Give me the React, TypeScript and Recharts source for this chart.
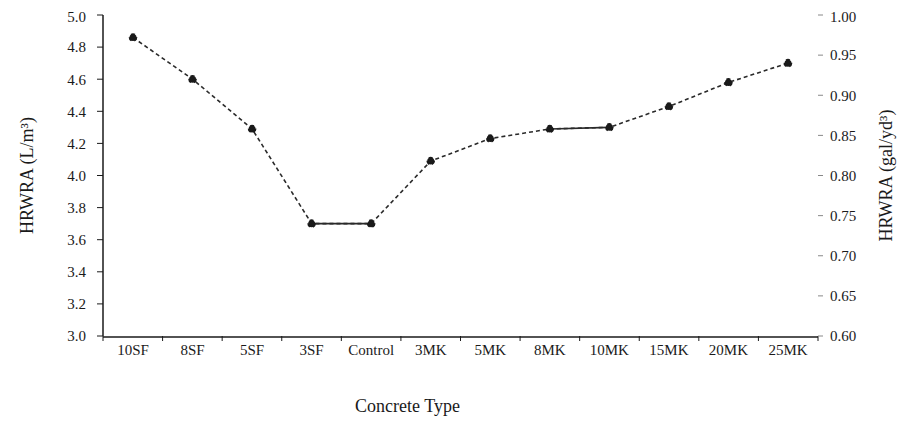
import { LineChart, Line, XAxis, YAxis, Label } from "recharts";

// Concrete mixes along the x axis
const MIXES = ["10SF", "8SF", "5SF", "3SF", "Control", "3MK", "5MK", "8MK", "10MK", "15MK", "20MK", "25MK"];
// HRWRA dosage, L/m³
const HRWRA = [4.86, 4.6, 4.29, 3.7, 3.7, 4.09, 4.23, 4.29, 4.3, 4.43, 4.58, 4.7];
// pairs of neighbouring mixes joined with a solid segment
const SOLID_PAIRS = [["3SF", "Control"], ["8MK", "10MK"]];

const LEFT_TICKS = [3.0, 3.2, 3.4, 3.6, 3.8, 4.0, 4.2, 4.4, 4.6, 4.8, 5.0];
const RIGHT_TICKS = [0.6, 0.65, 0.7, 0.75, 0.8, 0.85, 0.9, 0.95, 1.0];
const EDGE_TICKS = [0, 1, 2, 3, 4, 5, 6, 7, 8, 9, 10, 11, 12];

const inSolid = (mix: string) => SOLID_PAIRS.some((p) => p.includes(mix));

const data = MIXES.map((mix, i) => ({
  mix,
  hrwra: HRWRA[i],
  solid: inSolid(mix) ? HRWRA[i] : null,
}));

const FONT = "'Liberation Serif', 'Times New Roman', serif";
const INK = "#1a1a1a";
const tickStyle = { fontSize: 15, fill: INK, fontFamily: FONT };
const titleStyle = { fontSize: 18, fill: INK, fontFamily: FONT };

const NoLabel = () => <g />;

export default function App() {
  return (
    <div style={{ fontFamily: FONT }}>
      <LineChart width={900} height={430} data={data} margin={{ top: 7, right: 0, left: 0, bottom: 22 }}>
        {/* tick marks between categories */}
        <XAxis
          type="number"
          dataKey="__none"
          domain={[0, 12]}
          allowDataOverflow
          ticks={EDGE_TICKS}
          interval={0}
          tick={NoLabel}
          axisLine={false}
          tickLine={{ stroke: INK }}
          tickSize={5}
          height={1}
        />
        <XAxis
          xAxisId="mix"
          dataKey="mix"
          interval={0}
          padding={{ left: 30, right: 30 }}
          tickLine={false}
          tickSize={0}
          tickMargin={7}
          tick={tickStyle}
          axisLine={{ stroke: INK, strokeWidth: 1.5 }}
          height={79}
        >
          <Label value="Concrete Type" position="insideBottom" offset={4} dx={-53} style={titleStyle} />
        </XAxis>
        <YAxis
          yAxisId="left"
          type="number"
          domain={[3.0, 5.0]}
          ticks={LEFT_TICKS}
          tickFormatter={(v) => Number(v).toFixed(1)}
          tick={tickStyle}
          tickSize={6}
          tickMargin={11}
          axisLine={{ stroke: INK, strokeWidth: 1.5 }}
          tickLine={{ stroke: INK }}
          width={95}
        >
          <Label value="HRWRA (L/m³)" angle={-90} position="insideLeft" offset={19} style={{ ...titleStyle, textAnchor: "middle" }} />
        </YAxis>
        <YAxis
          yAxisId="right"
          orientation="right"
          type="number"
          dataKey="__none"
          domain={[0.6, 1.0]}
          allowDataOverflow
          ticks={RIGHT_TICKS}
          tickFormatter={(v) => Number(v).toFixed(2)}
          tick={tickStyle}
          tickSize={5}
          tickMargin={7}
          axisLine={false}
          tickLine={{ stroke: "#888" }}
          width={90}
        >
          <Label value="HRWRA (gal/yd³)" angle={-90} position="insideRight" offset={22} style={{ ...titleStyle, textAnchor: "middle" }} />
        </YAxis>
        <Line
          xAxisId="mix"
          yAxisId="left"
          dataKey="hrwra"
          stroke="#2a2a2a"
          strokeWidth={1.6}
          strokeDasharray="4 3"
          dot={{ r: 3.5, fill: "#1a1a1a", stroke: "#1a1a1a" }}
          isAnimationActive={false}
        />
        <Line
          xAxisId="mix"
          yAxisId="left"
          dataKey="solid"
          stroke="#2a2a2a"
          strokeWidth={1.6}
          dot={false}
          connectNulls={false}
          isAnimationActive={false}
        />
      </LineChart>
    </div>
  );
}
